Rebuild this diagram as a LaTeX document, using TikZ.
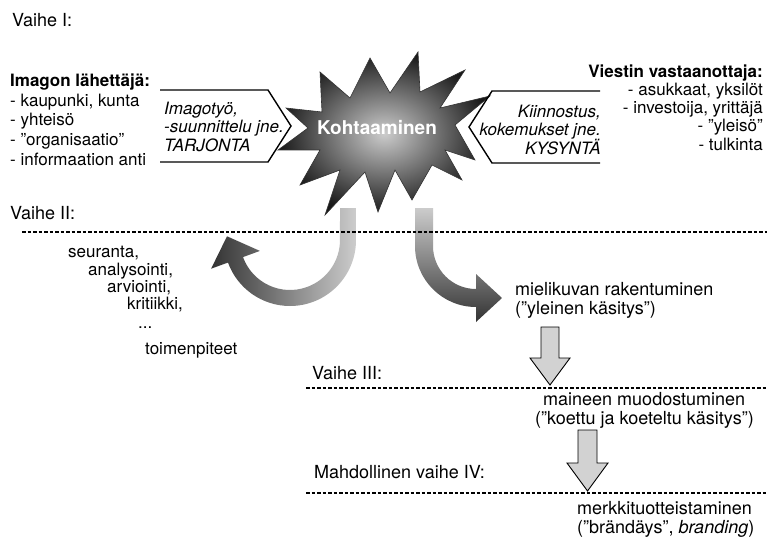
\documentclass[tikz,border=0pt]{standalone}
\usepackage{fontspec}
\setmainfont{TeX Gyre Heros}
\begin{document}
\begin{tikzpicture}[x=1pt,y=-1pt,
  txt/.style={inner sep=0pt, anchor=base west, font=\fontsize{17}{19}\selectfont},
  txtr/.style={inner sep=0pt, anchor=base east, font=\fontsize{17}{19}\selectfont},
  txtl/.style={inner sep=0pt, anchor=base west, font=\fontsize{18}{20}\selectfont},
  head/.style={inner sep=0pt, anchor=base west, font=\fontsize{18}{20}\selectfont},
  bhead/.style={txt, font=\fontsize{17}{19}\selectfont\bfseries},
  bheadr/.style={txtr, font=\fontsize{17}{19}\selectfont\bfseries},
  itx/.style={txt, font=\fontsize{17}{19}\selectfont\itshape},
  itxr/.style={txtr, font=\fontsize{17}{19}\selectfont\itshape},
  chev/.style={draw=black, line width=1.4pt, line join=miter},
  dashline/.style={draw=black, line width=1.2pt, dash pattern=on 3.5pt off 2pt},
  blockarrow/.style={draw=black, line width=0.9pt, fill=gray!35}
]
\useasboundingbox (0,0) rectangle (767,540);
\fill[white] (0,0) rectangle (767,540);

% Phase I
\node[head] (v1) at (12,27) {Vaihe I:};

\node[bhead] (s0) at (10,87) {Imagon lähettäjä:};
\node[txt] (s1) at (10,106.5) {- kaupunki, kunta};
\node[txt] (s2) at (10,126) {- yhteisö};
\node[txt] (s3) at (10,145.5) {- ”organisaatio”};
\node[txt] (s4) at (10,165) {- informaation anti};

\node[bheadr] (r0) at (763,78) {Viestin vastaanottaja:};
\node[txtr] (r1) at (763,96) {- asukkaat, yksilöt};
\node[txtr] (r2) at (763,114) {- investoija, yrittäjä};
\node[txtr] (r3) at (763,132) {- ”yleisö”};
\node[txtr] (r4) at (763,150) {- tulkinta};

% curved arrows (drawn below the star)
\shade[left color=black!80, right color=gray!40]
  (356,208) -- (356,240) arc[start angle=0,end angle=160,radius=66]
  -- (211.1,268.7) -- (227,236.3) -- (259.9,250.9) -- (243.0,257.1)
  arc[start angle=160,end angle=0,radius=50] -- (340,208) -- cycle;
\shade[top color=gray!40, bottom color=black!80]
  (415,208) -- (415,246) arc[start angle=180,end angle=90,radius=61]
  -- (476,322) -- (502,298) -- (476,274) -- (476,289)
  arc[start angle=90,end angle=180,radius=43] -- (433,208) -- cycle;

% star
\shade[inner color=gray!40, outer color=black!90, draw=black!80, line width=0.6pt]
  (370,58) -- (390,93) -- (418,52) -- (420,92) -- (465,70) -- (440,108)
  -- (490,96) -- (455,125) -- (475,160) -- (445,150) -- (462,180)
  -- (432,165) -- (412,200) -- (395,170) -- (378,212) -- (365,172)
  -- (325,215) -- (340,170) -- (300,185) -- (320,150) -- (278,150)
  -- (308,128) -- (286,108) -- (322,112) -- (320,72) -- (350,98) -- cycle;
\node[font=\fontsize{19}{21}\selectfont\bfseries, text=white, inner sep=0pt] (kohtaaminen) at (377,128) {Kohtaaminen};

% chevrons
\draw[chev] (160,90) -- (268,90) -- (291,126) -- (268,162) -- (160,162);
\draw[chev] (600,91) -- (492,91) -- (469,127) -- (492,163) -- (600,163);

\node[itx] (l1) at (164,115) {Imagotyö,};
\node[itx] (l2) at (164,133) {-suunnittelu jne.};
\node[itx] (l3) at (164,152) {TARJONTA};
\node[itxr] (k1) at (601,118) {Kiinnostus,};
\node[itxr] (k2) at (601,136) {kokemukset jne.};
\node[itxr] (k3) at (601,154) {KYSYNTÄ};

% Phase II
\node[head] (v2) at (10,219) {Vaihe II:};
\coordinate (d1a) at (22,232);
\coordinate (d1b) at (767,232);
\draw[dashline] (d1a) -- (d1b);

\node[txt] (f1) at (68,257) {seuranta,};
\node[txt] (f2) at (88,275) {analysointi,};
\node[txt] (f3) at (107,292) {arviointi,};
\node[txt] (f4) at (127,309) {kritiikki,};
\node[txt] (f5) at (138,328) {...};
\node[txt] (f6) at (145,354) {toimenpiteet};

\node[txtl] (m1) at (515,295) {mielikuvan rakentuminen};
\node[txtl] (m2) at (515,314) {(”yleinen käsitys”)};

% Phase III
\draw[blockarrow] (541,327) -- (559,327) -- (559,358) -- (570,358) -- (550,385)
  -- (530,358) -- (541,358) -- cycle;
\node[head] (v3) at (312,379) {Vaihe III:};
\coordinate (d2a) at (306,388);
\coordinate (d2b) at (767,388);
\draw[dashline] (d2a) -- (d2b);
\node[txtl] (n1) at (543,405) {maineen muodostuminen};
\node[txtl] (n2) at (535,424) {(”koettu ja koeteltu käsitys”)};

% Phase IV
\draw[blockarrow] (578,430) -- (597,430) -- (597,463) -- (608,463) -- (587.5,491)
  -- (567,463) -- (578,463) -- cycle;
\node[head] (v4) at (314,478) {Mahdollinen vaihe IV:};
\coordinate (d3a) at (306,493);
\coordinate (d3b) at (767,493);
\draw[dashline] (d3a) -- (d3b);
\node[txtl] (b1) at (577,514) {merkkituotteistaminen};
\node[txtl] (b2) at (577,533) {(”brändäys”, \textit{branding})};
\end{tikzpicture}
\end{document}
